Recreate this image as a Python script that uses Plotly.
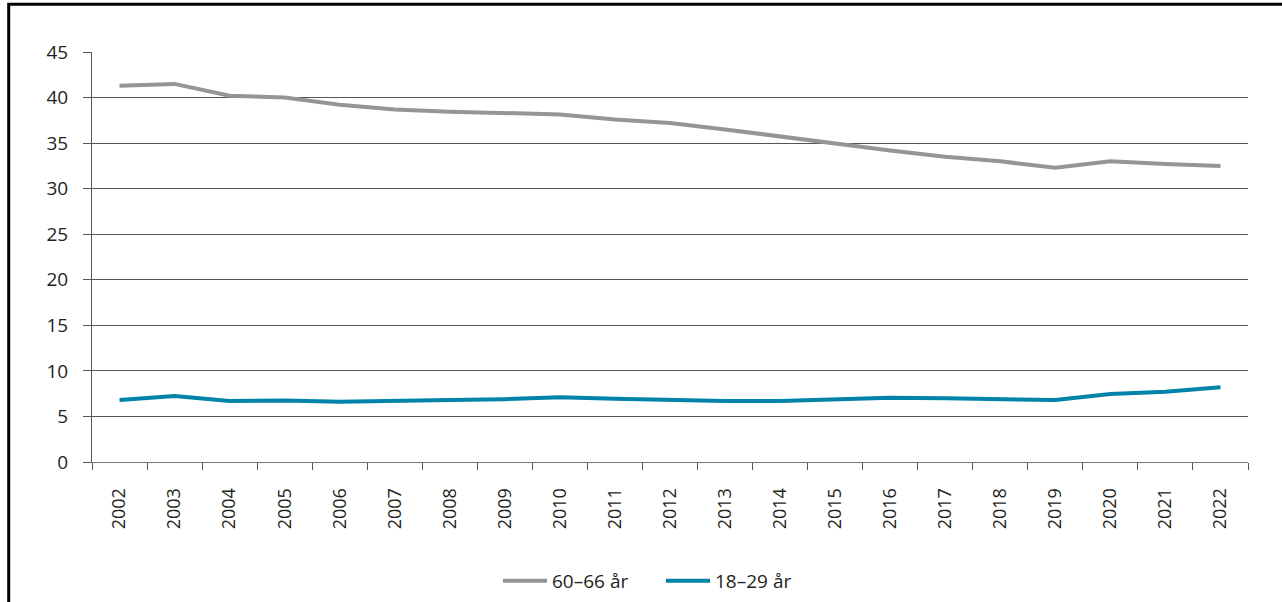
import plotly.graph_objects as go

years = [str(y) for y in range(2002, 2023)]
age_60_66 = [41.3, 41.5, 40.2, 40.0, 39.2, 38.7, 38.45, 38.3, 38.15, 37.6, 37.2,
             36.5, 35.7, 34.9, 34.2, 33.5, 33.0, 32.3, 33.0, 32.7, 32.5]
age_18_29 = [6.8, 7.25, 6.7, 6.75, 6.6, 6.65, 6.8, 6.9, 7.1, 6.95, 6.8,
             6.7, 6.7, 6.9, 7.05, 7.0, 6.9, 6.8, 7.45, 7.7, 8.2]
y_ticks = [0, 5, 10, 15, 20, 25, 30, 35, 40, 45]

GRAY = "#939598"
BLUE = "#0083a8"
TEXT = "#231f20"
FONT = "Open Sans, DejaVu Sans, sans-serif"

fig = go.Figure()
fig.add_trace(go.Scatter(x=years, y=age_60_66, mode="lines", name="60–66 år",
                         line=dict(color=GRAY, width=4)))
fig.add_trace(go.Scatter(x=years, y=age_18_29, mode="lines", name="18–29 år",
                         line=dict(color=BLUE, width=4)))

# plot area in pixels: x 92..1248, y 52..462
L, R, T, B = 92, 1248, 52, 462
W, H = 1282, 602
pw, ph = R - L, B - T

def px_x(x):
    return (x - L) / pw

def px_y(y):
    return (B - y) / ph

# outer frame around the figure
fig.add_shape(type="rect", xref="paper", yref="paper",
              x0=px_x(8.7), x1=px_x(1300), y0=px_y(4.3), y1=px_y(640),
              line=dict(color="black", width=3), fillcolor="rgba(0,0,0,0)",
              layer="above")

fig.update_layout(
    width=W, height=H,
    margin=dict(l=L, r=W - R, t=T, b=H - B, autoexpand=False),
    paper_bgcolor="white", plot_bgcolor="white",
    font=dict(family=FONT, size=19, color=TEXT),
    showlegend=True,
    legend=dict(orientation="h", xref="container", yref="container",
                x=661 / W, xanchor="center",
                y=1 - 581 / H, yanchor="middle",
                font=dict(family=FONT, size=19, color=TEXT),
                itemwidth=44, entrywidth=104, tracegroupgap=0,
                bgcolor="rgba(0,0,0,0)"),
    xaxis=dict(
        type="category", tickson="boundaries", ticks="outside", ticklen=7,
        tickcolor="#555555", tickwidth=1,
        showline=True, linecolor="#777777", linewidth=1,
        showgrid=False, tickangle=-90, automargin=False,
        ticklabelstandoff=18,
        tickfont=dict(family=FONT, size=18, color=TEXT),
        range=[-0.5, len(years) - 0.5], fixedrange=True,
    ),
    yaxis=dict(
        range=[0, 45], tickvals=y_ticks, ticks="outside", ticklen=8,
        tickcolor="#555555", tickwidth=1,
        showline=True, linecolor="#555555", linewidth=1,
        showgrid=True, gridcolor="#555555", gridwidth=1,
        zeroline=False, ticklabelstandoff=11, automargin=False,
        tickfont=dict(family=FONT, size=19, color=TEXT),
        fixedrange=True,
    ),
)

fig.write_html("out.html")
